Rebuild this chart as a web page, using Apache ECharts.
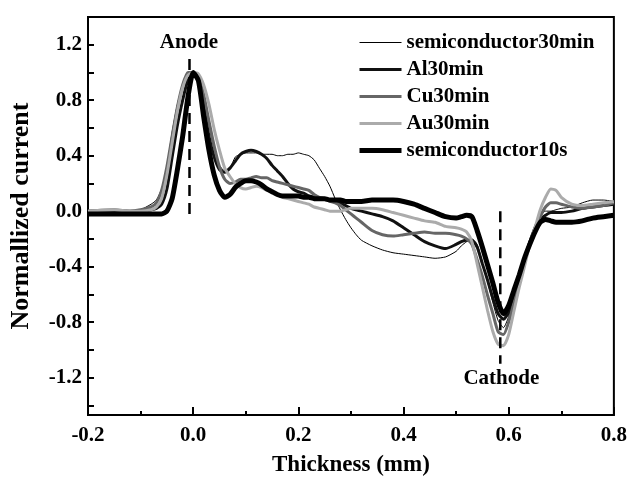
<!DOCTYPE html>
<html>
<head>
<meta charset="utf-8">
<script src="https://cdn.jsdelivr.net/npm/echarts@6/dist/echarts.min.js"></script>
<style>
  html, body { margin: 0; padding: 0; background: #fff; }
  #chart { width: 630px; height: 482px; }
</style>
</head>
<body>
<div id="chart"></div>
<script>
'use strict';

// thickness (mm)
var xs = [-0.2, -0.15, -0.12, -0.1, -0.08, -0.07, -0.06, -0.05, -0.04, -0.03, -0.02, -0.01,
  0, 0.01, 0.02, 0.03, 0.04, 0.05, 0.06, 0.07, 0.08, 0.09, 0.1, 0.11, 0.12, 0.13, 0.14, 0.15,
  0.16, 0.17, 0.18, 0.19, 0.2, 0.21, 0.22, 0.23, 0.24, 0.25, 0.26, 0.27, 0.28, 0.29, 0.3, 0.31,
  0.32, 0.34, 0.36, 0.38, 0.4, 0.42, 0.44, 0.46, 0.48, 0.5, 0.51, 0.52, 0.53, 0.54, 0.55, 0.56,
  0.57, 0.58, 0.59, 0.6, 0.61, 0.62, 0.63, 0.64, 0.65, 0.66, 0.67, 0.68, 0.69, 0.7, 0.72, 0.74,
  0.76, 0.78, 0.8];

var semi30 = [0.0, 0.0, -0.01, 0.01, 0.05, 0.08, 0.16, 0.32, 0.57, 0.77, 0.91, 0.99,
  1.0, 0.97, 0.82, 0.62, 0.44, 0.33, 0.29, 0.31, 0.39, 0.41, 0.42, 0.42, 0.42, 0.41, 0.41, 0.41,
  0.40, 0.40, 0.41, 0.41, 0.42, 0.41, 0.40, 0.37, 0.31, 0.25, 0.18, 0.09, 0.01, -0.06, -0.12, -0.17,
  -0.21, -0.25, -0.28, -0.30, -0.31, -0.32, -0.33, -0.34, -0.33, -0.29, -0.25, -0.22, -0.20, -0.24, -0.37, -0.51,
  -0.66, -0.79, -0.84, -0.76, -0.62, -0.47, -0.32, -0.20, -0.10, -0.03, 0.0, 0.0, 0.01, 0.02, 0.03, 0.06,
  0.08, 0.08, 0.07];

var al30 = [0.0, 0.0, 0.0, 0.0, 0.01, 0.02, 0.05, 0.16, 0.39, 0.62, 0.80, 0.95,
  1.0, 0.95, 0.76, 0.54, 0.39, 0.30, 0.28, 0.31, 0.36, 0.41, 0.43, 0.44, 0.43, 0.41, 0.38, 0.33,
  0.29, 0.25, 0.20, 0.16, 0.14, 0.13, 0.11, 0.10, 0.09, 0.09, 0.08, 0.07, 0.06, 0.04, 0.02, 0.01,
  0.0, -0.02, -0.04, -0.07, -0.12, -0.17, -0.22, -0.25, -0.27, -0.24, -0.22, -0.21, -0.21, -0.26, -0.38, -0.50,
  -0.63, -0.74, -0.78, -0.73, -0.61, -0.47, -0.35, -0.23, -0.14, -0.06, -0.03, -0.01, -0.01, -0.01, 0.0, 0.02,
  0.03, 0.04, 0.05];

var cu30 = [0.0, 0.01, 0.0, 0.01, 0.03, 0.06, 0.15, 0.32, 0.54, 0.75, 0.91, 1.0,
  1.0, 0.96, 0.84, 0.65, 0.47, 0.32, 0.23, 0.20, 0.21, 0.23, 0.23, 0.24, 0.25, 0.24, 0.24, 0.22,
  0.21, 0.20, 0.19, 0.18, 0.17, 0.16, 0.15, 0.12, 0.10, 0.09, 0.07, 0.06, 0.04, 0.01, -0.02, -0.05,
  -0.08, -0.14, -0.17, -0.18, -0.17, -0.16, -0.15, -0.16, -0.16, -0.17, -0.18, -0.20, -0.24, -0.35, -0.47, -0.61,
  -0.74, -0.87, -0.89, -0.80, -0.66, -0.50, -0.37, -0.24, -0.14, -0.04, 0.03, 0.06, 0.06, 0.05, 0.03, 0.02,
  0.03, 0.04, 0.06];

var au30 = [0.0, 0.01, 0.0, 0.0, 0.01, 0.03, 0.09, 0.26, 0.49, 0.72, 0.89, 0.98,
  1.0, 0.99, 0.91, 0.77, 0.59, 0.44, 0.31, 0.25, 0.20, 0.17, 0.16, 0.17, 0.18, 0.17, 0.15, 0.14,
  0.12, 0.10, 0.09, 0.08, 0.07, 0.06, 0.05, 0.03, 0.02, 0.01, 0.0, 0.0, 0.0, 0.01, 0.02, 0.02,
  0.02, 0.02, 0.01, -0.01, -0.03, -0.05, -0.07, -0.08, -0.11, -0.12, -0.13, -0.15, -0.22, -0.38, -0.55, -0.72,
  -0.87, -0.96, -0.97, -0.89, -0.72, -0.55, -0.40, -0.24, -0.12, 0.01, 0.10, 0.16, 0.15, 0.10, 0.05, 0.04,
  0.05, 0.06, 0.07];

var semi10s = [-0.02, -0.02, -0.02, -0.02, -0.02, -0.02, -0.02, 0.0, 0.09, 0.30, 0.54, 0.82,
  1.0, 0.94, 0.68, 0.44, 0.26, 0.15, 0.10, 0.12, 0.17, 0.20, 0.22, 0.22, 0.21, 0.19, 0.16, 0.14,
  0.12, 0.11, 0.11, 0.11, 0.11, 0.10, 0.10, 0.09, 0.09, 0.09, 0.08, 0.08, 0.08, 0.07, 0.07, 0.07,
  0.07, 0.08, 0.08, 0.08, 0.07, 0.05, 0.02, -0.01, -0.04, -0.05, -0.04, -0.03, -0.04, -0.14, -0.26, -0.39,
  -0.52, -0.66, -0.74, -0.68, -0.57, -0.46, -0.34, -0.24, -0.15, -0.08, -0.06, -0.07, -0.08, -0.08, -0.08, -0.07,
  -0.05, -0.04, -0.03];

var seriesNames = ['semiconductor30min', 'Al30min', 'Cu30min', 'Au30min', 'semiconductor10s'];
var seriesValues = [semi30, al30, cu30, au30, semi10s];
var seriesColors = ['#000000', '#111111', '#666666', '#ababab', '#000000'];
var seriesWidths = [1, 3, 3, 3, 5];

var yTickLabels = [-1.2, -0.8, -0.4, 0.0, 0.4, 0.8, 1.2];
var yTicks = [-1.4, -1.2, -1.0, -0.8, -0.6, -0.4, -0.2, 0.0, 0.2, 0.4, 0.6, 0.8, 1.0, 1.2, 1.4];

// electrode markers: [x, yFrom, yTo], text position [x, y]
var anodeLine = [-0.007, -0.02, 1.11];
var cathodeLine = [0.584, 0.0, -1.1];
var anodeText = [-0.007, 1.21];
var cathodeText = [0.587, -1.21];

var font = 'Liberation Serif';

function pairs(ys) {
  return xs.map(function (x, i) { return [x, ys[i]]; });
}

var series = seriesNames.map(function (name, i) {
  return {
    name: name,
    type: 'line',
    data: pairs(seriesValues[i]),
    symbol: 'none',
    showSymbol: false,
    smooth: 0.2,
    lineStyle: { color: seriesColors[i], width: seriesWidths[i] },
    itemStyle: { color: seriesColors[i] },
    z: 2 + i
  };
});

[anodeLine, cathodeLine].forEach(function (m, i) {
  series.push({
    name: i === 0 ? 'anodeMark' : 'cathodeMark',
    type: 'line',
    data: [[m[0], m[1]], [m[0], m[2]]],
    symbol: 'none',
    silent: true,
    lineStyle: { color: '#000', width: 2.5, type: [11, 7] },
    z: 10
  });
});

series.push({
  name: 'labels',
  type: 'scatter',
  symbol: 'circle',
  symbolSize: 1,
  silent: true,
  data: [
    { value: anodeText, label: { formatter: 'Anode' } },
    { value: cathodeText, label: { formatter: 'Cathode' } }
  ],
  itemStyle: { color: 'rgba(0,0,0,0)' },
  label: {
    show: true,
    position: [0, 0],
    align: 'center',
    verticalAlign: 'middle',
    color: '#000',
    opacity: 1,
    fontFamily: font,
    fontWeight: 'bold',
    fontSize: 21
  },
  z: 11
});

// legend entries, each with its own line sample
var legendData = seriesNames.map(function (name, i) {
  return {
    name: name,
    itemStyle: { opacity: 0 },
    lineStyle: { color: seriesColors[i], width: seriesWidths[i] }
  };
});

var myChart = echarts.init(document.getElementById('chart'));

var option = {
  animation: false,
  backgroundColor: '#fff',
  grid: {
    left: 86, right: 14, top: 17, bottom: 64,
    show: true, borderColor: '#000', borderWidth: 2
  },
  legend: {
    data: legendData,
    orient: 'vertical',
    left: 352,
    top: 27,
    itemWidth: 42,
    itemHeight: 14,
    itemGap: 6,
    itemStyle: { opacity: 0 },
    textStyle: { fontFamily: font, fontWeight: 'bold', fontSize: 21, color: '#000', lineHeight: 21 }
  },
  xAxis: {
    type: 'value',
    min: -0.2,
    max: 0.8,
    interval: 0.2,
    name: 'Thickness (mm)',
    nameLocation: 'middle',
    nameGap: 39,
    nameTextStyle: { fontFamily: font, fontWeight: 'bold', fontSize: 23, color: '#000' },
    axisLine: { onZero: false, lineStyle: { color: '#000', width: 2 } },
    axisTick: { inside: true, length: 8, lineStyle: { color: '#000', width: 2 } },
    minorTick: { show: true, splitNumber: 2, length: 4, lineStyle: { color: '#000', width: 2 } },
    axisLabel: {
      margin: 10,
      fontFamily: font, fontWeight: 'bold', fontSize: 21, color: '#000',
      formatter: function (v) { return v.toFixed(1); }
    },
    splitLine: { show: false }
  },
  yAxis: {
    type: 'value',
    min: -1.47,
    max: 1.4,
    name: 'Normallized current',
    nameLocation: 'middle',
    nameGap: 54,
    nameTextStyle: { fontFamily: font, fontWeight: 'bold', fontSize: 26, color: '#000' },
    axisLine: { onZero: false, lineStyle: { color: '#000', width: 2 } },
    axisTick: { inside: true, length: 6, customValues: yTicks, lineStyle: { color: '#000', width: 2 } },
    axisLabel: {
      margin: 6,
      customValues: yTickLabels,
      fontFamily: font, fontWeight: 'bold', fontSize: 21, color: '#000',
      formatter: function (v) { return v.toFixed(1); }
    },
    splitLine: { show: false }
  },
  series: series
};

myChart.setOption(option);
</script>
</body>
</html>
